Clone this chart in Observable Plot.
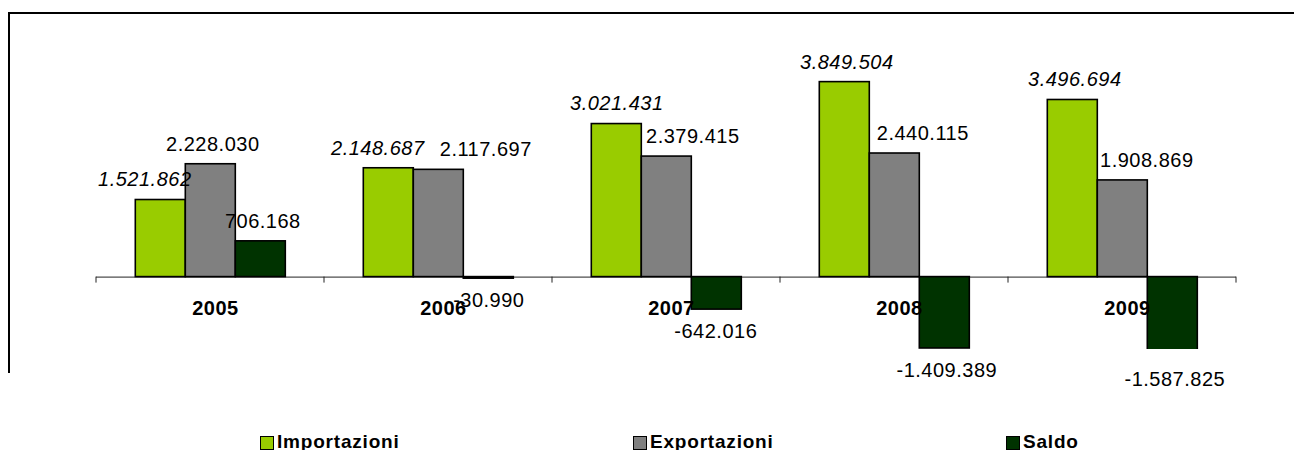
<!DOCTYPE html>
<html>
<head>
<meta charset="utf-8">
<script src="https://cdn.jsdelivr.net/npm/d3@7"></script>
<script src="https://cdn.jsdelivr.net/npm/@observablehq/plot@0.6"></script>
<style>
  html, body { margin: 0; padding: 0; background: #fff; }
  #wrap { position: relative; width: 1294px; height: 450px; overflow: hidden; font-family: "Liberation Sans", Arial, sans-serif; }
  #frame { position: absolute; left: 8px; top: 12px; width: 1300px; height: 359px; border-top: 2px solid #000; border-left: 2px solid #000; pointer-events: none; }
  #legend { position: absolute; left: 0; top: 432px; width: 1294px; height: 20px; }
  .item { position: absolute; top: 0; font-weight: bold; font-size: 19px; line-height: 19px; letter-spacing: 0.8px; color: #000; white-space: nowrap; }
  .sw { position: absolute; top: 4px; left: 0; width: 12px; height: 12px; border: 1px solid #000; }
  .lab { position: absolute; left: 17px; top: 0; }
</style>
</head>
<body>
<div id="wrap">
  <div id="chart"></div>
  <div id="frame"></div>
  <div id="legend"></div>
</div>
<script>
const years = ["2005", "2006", "2007", "2008", "2009"];
const seriesNames = ["Importazioni", "Exportazioni", "Saldo"];
const importazioni = [1521862, 2148687, 3021431, 3849504, 3496694];
const exportazioni = [2228030, 2117697, 2379415, 2440115, 1908869];
const saldo = [706168, -30990, -642016, -1409389, -1587825];
const colors = ["#99CC00", "#808080", "#003300"];

// horizontal nudges (px) of the data labels, as placed in the original chart
const labelNudge = {
  Importazioni: [-16, -11, 0, 2, 2],
  Exportazioni: [2, 47, 26, 28, 24],
  Saldo: [2, 0, -1, 2, 2]
};

const seriesValues = [importazioni, exportazioni, saldo];
const rows = [];
years.forEach((yr, i) => {
  seriesNames.forEach((s, k) => rows.push({year: yr, series: s, value: seriesValues[k][i], idx: i}));
});

const it = d3.formatLocale({decimal: ",", thousands: ".", grouping: [3], currency: ["€", ""], minus: "-"});
const fmt = it.format(",d");

const labelMarks = rows.map(d => Plot.text([d], {
  fx: "year", x: "series", y: "value",
  text: r => fmt(r.value),
  dx: labelNudge[d.series][d.idx],
  dy: d.value >= 0 ? -20 : 22,
  fontStyle: d.series === "Importazioni" ? "italic" : "normal",
  fontSize: 20, fill: "#000"
}));

const chart = Plot.plot({
  width: 1294,
  height: 425,
  marginLeft: 94.7,
  marginRight: 56,
  marginTop: 20,
  marginBottom: 76,
  style: {fontFamily: "'Liberation Sans', Arial, sans-serif", letterSpacing: "0.5px", background: "transparent", overflow: "visible"},
  fx: {domain: years, padding: 0, axis: null},
  x: {domain: seriesNames, paddingInner: 0, paddingOuter: 0.743, axis: null},
  y: {domain: [-1429400, 5066000], axis: null},
  color: {domain: seriesNames, range: colors},
  marks: [
    Plot.ruleY([0], {stroke: "#222", strokeWidth: 1}),
    Plot.barY(rows, {fx: "year", x: "series", y: "value", fill: "series", stroke: "#000", strokeWidth: 1.6, clip: true}),
    ...labelMarks,
    Plot.text(years, {fx: d => d, y: 0, text: d => d, dx: 5, dy: 31.5, fontWeight: "bold", fontSize: 20, fill: "#000"})
  ]
});

document.getElementById("chart").appendChild(chart);

// category boundary ticks on the zero line, from the plot's own scales
try {
  const fxs = chart.scale("fx");
  const ys = chart.scale("y");
  const y0 = ys.apply(0);
  const edges = years.map(y => fxs.apply(y));
  edges.push(fxs.apply(years[years.length - 1]) + fxs.bandwidth);
  const svg = d3.select(chart);
  svg.append("g").attr("stroke", "#222").attr("stroke-width", 1)
    .selectAll("line").data(edges).join("line")
    .attr("x1", d => d).attr("x2", d => d)
    .attr("y1", y0).attr("y2", y0 + 6);
} catch (e) { console.error(e); }

// legend below
const legendPos = [260, 633, 1006];
const legend = document.getElementById("legend");
seriesNames.forEach((s, k) => {
  const item = document.createElement("div");
  item.className = "item";
  item.style.left = legendPos[k] + "px";
  const sw = document.createElement("span");
  sw.className = "sw";
  sw.style.background = colors[k];
  const lab = document.createElement("span");
  lab.className = "lab";
  lab.textContent = s;
  item.appendChild(sw);
  item.appendChild(lab);
  legend.appendChild(item);
});
</script>
</body>
</html>
